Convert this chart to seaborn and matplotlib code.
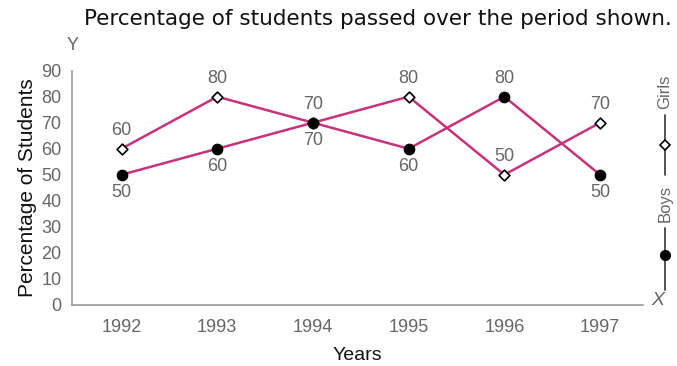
import numpy as np
import pandas as pd
import matplotlib
matplotlib.use("Agg")
import matplotlib.pyplot as plt
import seaborn as sns
from matplotlib.lines import Line2D

years = ["1992", "1993", "1994", "1995", "1996", "1997"]
girls = [60, 80, 70, 80, 50, 70]
boys = [50, 60, 70, 60, 80, 50]

sns.set_theme(style="white")
plt.rcParams['font.family'] = ['Liberation Sans', 'DejaVu Sans']

df = pd.DataFrame({"Year": years * 2,
                   "Value": girls + boys,
                   "Group": ["Girls"] * len(years) + ["Boys"] * len(years)})
df["pos"] = df["Year"].map({y: i for i, y in enumerate(years)})

line_col = "#c8327c"
grey = "#666666"

fig = plt.figure(figsize=(6.77, 3.66), dpi=100)
ax = fig.add_axes([0.106, 0.167, 0.844, 0.64])

# lines
sns.lineplot(data=df, x="pos", y="Value", units="Group", estimator=None,
             color=line_col, lw=1.8, ax=ax, legend=False, zorder=2)
# markers
g = df[df.Group == "Girls"]
b = df[df.Group == "Boys"]
ax.scatter(g["pos"], g["Value"], marker="D", s=30, facecolor="white",
           edgecolor="black", linewidth=1.2, zorder=3)
ax.scatter(b["pos"], b["Value"], marker="o", s=55, color="black", zorder=3)

# value labels
for i in range(len(years)):
    ax.annotate(str(girls[i]), (i, girls[i]), xytext=(0, 7), textcoords="offset points",
                ha="center", va="bottom", fontsize=13, color=grey)
    if boys[i] > girls[i]:
        off, va = (0, 7), "bottom"
    else:
        off, va = (0, -7), "top"
    ax.annotate(str(boys[i]), (i, boys[i]), xytext=off, textcoords="offset points",
                ha="center", va=va, fontsize=13, color=grey)

ax.set_xlim(-0.52, 5.45)
ax.set_ylim(0, 90)
ax.set_xticks(range(len(years)))
ax.set_xticklabels(years)
ax.set_yticks(range(0, 91, 10))
ax.tick_params(axis="both", colors=grey, labelsize=13, length=4, width=1,
               direction="out", labelcolor=grey)
ax.tick_params(axis="x", direction="in", pad=10)
for s in ["top", "right"]:
    ax.spines[s].set_visible(False)
for s in ["left", "bottom"]:
    ax.spines[s].set_color("#999999")
    ax.spines[s].set_linewidth(1.2)

ax.set_xlabel("Years", fontsize=14, color="#111111", labelpad=8)
ax.set_ylabel("Percentage of Students", fontsize=15, color="#111111", labelpad=3)

fig.text(0.558, 0.948, "Percentage of students passed over the period shown.",
         ha="center", va="center", fontsize=15.5, family="DejaVu Sans", color="#111111")
fig.text(0.107, 0.875, "Y", ha="center", va="center", fontsize=13, color=grey)
fig.text(0.972, 0.178, "X", ha="center", va="center", fontsize=14, color=grey, style="italic")

# vertical legend on right side
lx = 0.982
fig.text(lx, 0.75, "Girls", rotation=90, ha="center", va="center", fontsize=12, color=grey)
fig.add_artist(Line2D([lx, lx], [0.522, 0.686], transform=fig.transFigure, color="#444444", lw=1.3))
fig.add_artist(Line2D([lx], [0.604], transform=fig.transFigure, marker="D", ms=5,
                      mfc="white", mec="black", mew=1.2))
fig.text(lx, 0.445, "Boys", rotation=90, ha="center", va="center", fontsize=12, color=grey)
fig.add_artist(Line2D([lx, lx], [0.208, 0.377], transform=fig.transFigure, color="#444444", lw=1.3))
fig.add_artist(Line2D([lx], [0.303], transform=fig.transFigure, marker="o", ms=7,
                      color="black"))

fig.savefig("out.png", dpi=100)
